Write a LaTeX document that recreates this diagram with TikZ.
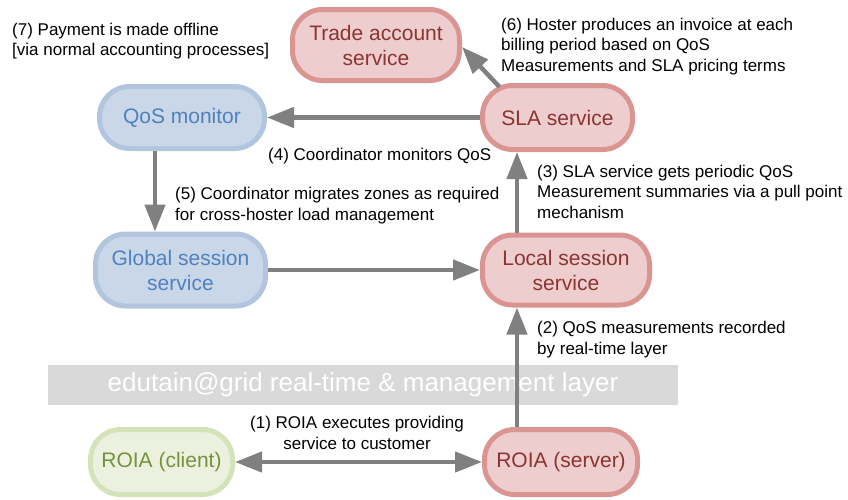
\documentclass[tikz,border=0pt]{standalone}
\usepackage{fontspec}
\setmainfont{Liberation Sans}
\usetikzlibrary{arrows.meta}

\definecolor{redline}{RGB}{218,149,147}
\definecolor{redfill}{RGB}{237,205,205}
\definecolor{redtext}{RGB}{140,52,50}
\definecolor{blueline}{RGB}{177,197,223}
\definecolor{bluefill}{RGB}{201,215,233}
\definecolor{bluetext}{RGB}{79,129,189}
\definecolor{greenline}{RGB}{213,227,186}
\definecolor{greenfill}{RGB}{235,241,222}
\definecolor{greentext}{RGB}{118,146,60}
\definecolor{flowgray}{RGB}{128,128,128}
\definecolor{bandgray}{RGB}{217,217,217}

\begin{document}
\begin{tikzpicture}[x=1pt,y=-1pt,
    service/.style={draw,line width=5pt,rounded corners=30pt,inner sep=0pt,
      align=center,font=\fontsize{21}{25}\selectfont},
    hoster/.style={service,draw=redline,fill=redfill,text=redtext},
    coord/.style={service,draw=blueline,fill=bluefill,text=bluetext},
    player/.style={service,draw=greenline,fill=greenfill,text=greentext},
    flow/.style={draw=flowgray,line width=4.5pt,-{Triangle[length=27pt,width=20pt]}},
    note/.style={anchor=base west,align=left,inner sep=0pt,
      font=\fontsize{17}{20.5}\selectfont}
  ]
    \useasboundingbox (0,0) rectangle (848,499);

    % real-time layer band
    \node[fill=bandgray,text=white,minimum width=630pt,minimum height=40pt,
      inner sep=0pt,font=\fontsize{26}{28}\selectfont]
      (layer) at (363,385) {edutain@grid real-time \& management layer};

    % services
    \node[hoster,minimum width=167pt,minimum height=71pt] (trade) at (376,45) {Trade account\\service};
    \node[hoster,minimum width=150pt,minimum height=64pt] (sla) at (557.5,117.5) {SLA service};
    \node[coord,minimum width=165pt,minimum height=62pt] (qos) at (182,117.5) {QoS monitor};
    \node[coord,minimum width=170pt,minimum height=72pt] (global) at (180.5,270) {Global session\\service};
    \node[hoster,minimum width=167pt,minimum height=70pt] (local) at (566,270) {Local session\\service};
    \node[player,minimum width=142pt,minimum height=65pt] (client) at (161.5,462) {ROIA (client)};
    \node[hoster,minimum width=153pt,minimum height=65pt] (server) at (561,462) {ROIA (server)};

    % flows
    \draw[flow,{Triangle[length=27pt,width=20pt]}-{Triangle[length=27pt,width=20pt]}] (client) -- (server);
    \draw[flow] ([xshift=-44pt]server.north) -- ([xshift=-44pt]server.north |- local.south);
    \draw[flow] ([xshift=-49pt]local.north) -- ([xshift=-49pt]local.north |- sla.south);
    \draw[flow] (global.east) -- (global.east -| local.west);
    \draw[flow] ([xshift=-27pt]qos.south) -- ([xshift=-27pt]qos.south |- global.north);
    \draw[flow] (sla) -- (qos);
    \draw[flow] ([shift={(-58pt,-4pt)}]sla.north) -- ([yshift=-2pt]trade.east);

    % notes (placed at the baseline of their last line)
    \node[note] (n7) at (12,55.5) {(7) Payment is made offline\\{}[via normal accounting processes]};
    \node[note] (n6) at (501,71) {(6) Hoster produces an invoice at each\\billing period based on QoS\\Measurements and SLA pricing terms};
    \node[note] (n4) at (268,160) {(4) Coordinator monitors QoS};
    \node[note] (n5) at (175,220) {(5) Coordinator migrates zones as required\\for cross-hoster load management};
    \node[note] (n3) at (537,218) {(3) SLA service gets periodic QoS\\Measurement summaries via a pull point\\mechanism};
    \node[note] (n2) at (537,354) {(2) QoS measurements recorded\\by real-time layer};
    \node[note,align=center,anchor=base] (n1) at (357,449) {(1) ROIA executes providing\\service to customer};
  \end{tikzpicture}
\end{document}
